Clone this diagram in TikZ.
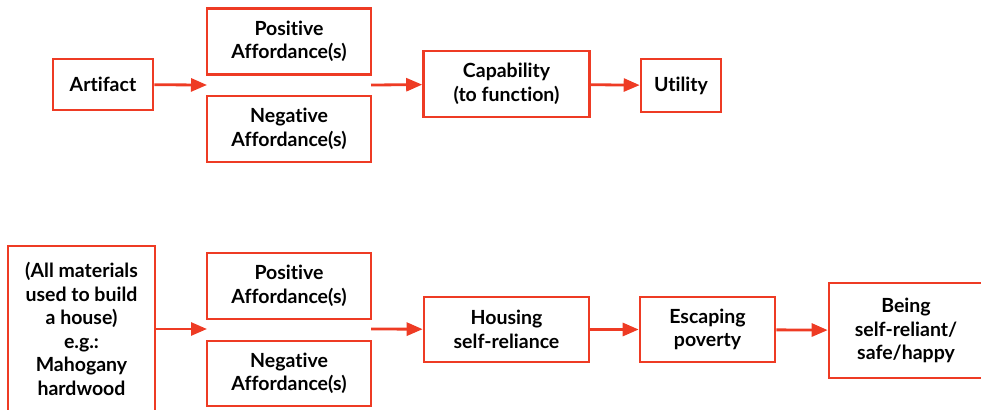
\documentclass[tikz,border=0pt]{standalone}
\usepackage{fontspec}
\setmainfont{Lato}[Ligatures=NoCommon]
\usetikzlibrary{arrows.meta}
\definecolor{boxred}{HTML}{EE3B24}

\begin{document}
\begin{tikzpicture}[x=1pt,y=-1pt,
  every node/.style={font=\fontsize{19.5}{23.5}\selectfont\bfseries,align=center},
  box/.style={draw=boxred,line width=2.6pt,inner sep=0pt},
  link/.style={boxred,line width=2.8pt,-{Triangle[length=16pt,width=13pt]}}]
  \useasboundingbox (0,0) rectangle (981,409);
  \node[box,minimum width=100,minimum height=51] (art) at (103,84.5) {Artifact};
  \node[box,minimum width=164,minimum height=66] (pos1) at (289,41.5) {Positive\\Affordance(s)};
  \node[box,minimum width=164,minimum height=66] (neg1) at (289,129) {Negative\\Affordance(s)};
  \node[box,minimum width=166,minimum height=66] (cap) at (506.5,84) {Capability\\(to function)};
  \node[box,minimum width=80,minimum height=53] (util) at (681,85.5) {Utility};
  \coordinate (in1) at (207,85);
  \coordinate (out1) at (371,85);
  \draw[link] (art) -- (in1);
  \draw[link] (out1) -- (cap);
  \draw[link] (cap) -- (util);
  \node[box,minimum width=147,minimum height=166] (mat) at (81.5,329) {(All materials\\used to build\\a house)\\e.g.:\\Mahogany\\hardwood};
  \node[box,minimum width=164,minimum height=66] (pos2) at (289,286) {Positive\\Affordance(s)};
  \node[box,minimum width=164,minimum height=65] (neg2) at (289,373.5) {Negative\\Affordance(s)};
  \node[box,minimum width=165,minimum height=65] (house) at (506.5,329.5) {Housing\\self-reliance};
  \node[box,minimum width=135,minimum height=65] (esc) at (707.5,329.5) {Escaping\\poverty};
  \node[box,minimum width=154,minimum height=95] (being) at (906,330.5) {Being\\self-reliant/\\safe/happy};
  \coordinate (in2) at (207,329);
  \coordinate (out2) at (371,329);
  \draw[link] (mat.east |- in2) -- (in2);
  \draw[link] (out2) -- (house);
  \draw[link] (house) -- (esc);
  \draw[link] (esc) -- (being);
\end{tikzpicture}
\end{document}
